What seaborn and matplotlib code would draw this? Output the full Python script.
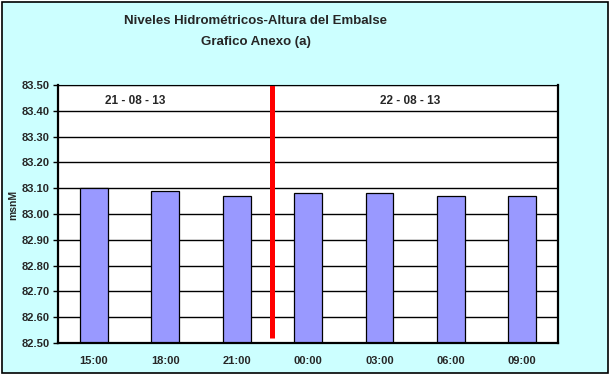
import matplotlib
matplotlib.use("Agg")
import matplotlib.pyplot as plt
import seaborn as sns
import pandas as pd
import numpy as np
from matplotlib.patches import Rectangle

categories = ["15:00", "18:00", "21:00", "00:00", "03:00", "06:00", "09:00"]
values = [83.10, 83.09, 83.07, 83.08, 83.08, 83.07, 83.07]
date_labels = ["21 - 08 - 13", "22 - 08 - 13"]
yticks = [82.50, 82.60, 82.70, 82.80, 82.90, 83.00, 83.10, 83.20, 83.30, 83.40, 83.50]

sns.set_style("white")
plt.rcParams['font.family'] = ['Liberation Sans', 'DejaVu Sans']
plt.rcParams['font.weight'] = 'bold'

W, H = 611, 375
fig = plt.figure(figsize=(W / 100, H / 100), dpi=100)
fig.patch.set_facecolor("white")
# chart background with border
bg = Rectangle((1.5 / W, 1 - 372.5 / H), 606.5 / W, 371 / H,
               transform=fig.transFigure, facecolor="#CCFFFF",
               edgecolor="black", linewidth=1.2, zorder=-5)
fig.patches.append(bg)

ax = fig.add_axes([58 / W, 1 - 343 / H, 500 / W, 258 / H])
ax.set_zorder(2)
ax.set_facecolor("white")

df = pd.DataFrame({"hora": categories, "nivel": values})
sns.barplot(data=df, x="hora", y="nivel", ax=ax, color="#9999FF",
            edgecolor="black", linewidth=0.9, width=0.39, saturation=1,
            errorbar=None, zorder=3)

ax.set_xlim(-0.5, len(categories) - 0.5)
ax.set_ylim(82.50, 83.50)
ax.set_yticks(yticks)
ax.set_yticklabels([f"{v:.2f}" for v in yticks], fontsize=8, fontweight="bold")
ax.yaxis.grid(True, color="black", linewidth=1.0, zorder=1)
ax.set_axisbelow(True)
ax.set_xticks(np.arange(len(categories)))
ax.set_xticklabels(categories, fontsize=8, fontweight="bold")
ax.set_xticks(np.arange(len(categories) + 1) - 0.5, minor=True)
ax.tick_params(axis="x", which="major", length=0, pad=9)
ax.tick_params(axis="x", which="minor", length=4, width=1, color="black", direction="out")
ax.tick_params(axis="y", length=3.5, width=1, color="black", direction="out", pad=2.5, left=True)
ax.set_xlabel("")
ax.set_ylabel("")
for s in ax.spines.values():
    s.set_visible(True)
    s.set_color("black")
    s.set_zorder(6)
ax.spines["left"].set_linewidth(1.6)
ax.spines["bottom"].set_linewidth(1.6)
ax.spines["top"].set_linewidth(0.8)
ax.spines["right"].set_linewidth(1.6)

# date separator
ax.plot([2.5, 2.5], [82.52, 83.50], color="#FF0000", linewidth=3.6,
        solid_capstyle="butt", zorder=5, clip_on=False)

ax.text(0.58, 83.438, date_labels[0], ha="center", va="center", fontsize=8.5, fontweight="bold")
ax.text(4.43, 83.438, date_labels[1], ha="center", va="center", fontsize=8.5, fontweight="bold")

fig.text(256 / W, 1 - 21 / H, "Niveles Hidrométricos-Altura del Embalse",
         ha="center", va="center", fontsize=9.5, fontweight="bold")
fig.text(256 / W, 1 - 42 / H, "Grafico Anexo (a)",
         ha="center", va="center", fontsize=9.5, fontweight="bold")
fig.text(13 / W, 1 - 205 / H, "msnM", rotation=90, ha="center", va="center",
         fontsize=7.5, fontweight="bold")

fig.savefig("out.png", dpi=100)
